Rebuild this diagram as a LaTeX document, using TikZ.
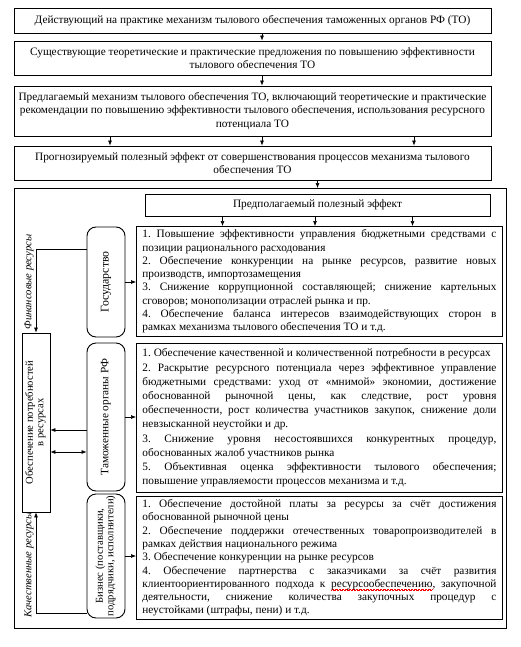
\documentclass[tikz,border=0pt]{standalone}
\usepackage{fontspec}
\setmainfont{Liberation Serif}
\usepackage{tikz}
\usetikzlibrary{positioning, arrows.meta}
\newsavebox\wordbox
\newcommand\redwave[1]{\sbox\wordbox{#1}\rlap{\color{red}\hbox to \wd\wordbox{\xleaders\hbox{\rule[-2.9pt]{0.7pt}{0.5pt}\rule[-2.3pt]{0.7pt}{0.5pt}}\hfill}}\usebox\wordbox}
\newcommand\twolines[1]{\renewcommand\arraystretch{0.88}\begin{tabular}{@{}c@{}}#1\end{tabular}}

\begin{document}
\frenchspacing
\begin{tikzpicture}[x=1pt, y=-1pt, font=\fontsize{11.3}{13.3}\selectfont,
    box/.style={draw, line width=0.9pt, align=center, inner sep=2pt},
    list/.style={draw, line width=0.9pt, text width=354pt, inner xsep=6pt, inner ysep=2pt, align=justify, anchor=north west},
    side/.style={draw, line width=0.9pt, rounded corners=9pt, minimum width=38pt, inner sep=0pt},
    res/.style={rotate=90, font=\fontsize{10.6}{12}\selectfont\itshape},
    arr/.style={-{Latex[length=5pt,width=4pt]}, line width=0.6pt},
    dbl/.style={{Latex[length=5pt,width=4pt]}-{Latex[length=5pt,width=4pt]}, line width=0.6pt}]
    \useasboundingbox (0,0) rectangle (521,647);
    % Upper chain
    \node[box, minimum width=477pt, minimum height=25pt] (act) at (252.5,20.5) {Действующий на практике механизм тылового обеспечения таможенных органов РФ (ТО)};
    \node[box, minimum width=477pt, minimum height=34pt] (prop) at (252.5,58) {Существующие теоретические и практические предложения по повышению эффективности\\тылового обеспечения ТО};
    \node[box, minimum width=477pt, minimum height=50pt] (mech) at (252.5,111) {Предлагаемый механизм тылового обеспечения ТО, включающий теоретические и практические\\рекомендации по повышению эффективности тылового обеспечения, использования ресурсного\\потенциала ТО};
    \node[box, minimum width=477pt, minimum height=34pt] (fore) at (252.5,163) {Прогнозируемый полезный эффект от совершенствования процессов механизма тылового\\обеспечения ТО};
    \draw[arr] ([xshift=9.5pt]act.south) -- ([xshift=9.5pt]prop.north);
    \draw[arr] ([xshift=9.5pt]prop.south) -- ([xshift=9.5pt]mech.north);
    \foreach \dx in {-142.5,9.5,161.5} {\draw[arr] ([xshift=\dx pt]mech.south) -- ([xshift=\dx pt]fore.north);}
    % Frame and effect
    \node[draw, line width=0.9pt, minimum width=492pt, minimum height=440pt, anchor=north west] (frame) at (14,188) {};
    \node[box, minimum width=345pt, minimum height=22pt] (eff) at (317.5,205) {Предполагаемый полезный эффект};
    \draw[arr] (fore.south -| eff.north) -- (frame.north -| eff.north);
    % Effect lists
    \node[list, minimum height=110pt] (listA) at (136,226) {1. Повышение эффективности управления бюджетными средствами с\linebreak позиции рационального расходования\par
      2. Обеспечение конкуренции на рынке ресурсов, развитие новых\linebreak производств, импортозамещения\par
      3. Снижение коррупционной составляющей; снижение картельных\linebreak сговоров; монополизации отраслей рынка и пр.\par
      4. Обеспечение баланса интересов взаимодействующих сторон в\linebreak рамках механизма тылового обеспечения ТО и т.д.};
    \node[list, minimum height=149pt, font=\fontsize{11.3}{14.2}\selectfont] (listB) at (136,343) {1.\ Обеспечение качественной и количественной потребности в ресурсах\par
      2. Раскрытие ресурсного потенциала через эффективное управление\linebreak бюджетными средствами: уход от «мнимой» экономии, достижение\linebreak обоснованной рыночной цены, как следствие, рост уровня\linebreak обеспеченности, рост количества участников закупок, снижение доли\linebreak невзысканной неустойки и др.\par
      3. Снижение уровня несостоявшихся конкурентных процедур,\linebreak обоснованных жалоб участников рынка\par
      5. Объективная оценка эффективности тылового обеспечения;\linebreak повышение управляемости процессов механизма и т.д.};
    \node[list, minimum height=123pt] (listC) at (136,496) {1. Обеспечение достойной платы за ресурсы за счёт достижения\linebreak обоснованной рыночной цены\par
      2. Обеспечение поддержки отечественных товаропроизводителей в\linebreak рамках действия национального режима\par
      3.\ Обеспечение конкуренции на рынке ресурсов\par
      4. Обеспечение партнерства с заказчиками за счёт развития\linebreak клиентоориентированного подхода к \redwave{ресурсообеспечению}, закупочной\linebreak деятельности, снижение количества закупочных процедур с\linebreak неустойками (штрафы, пени) и т.д.};
    \foreach \dx in {-95,-2.5,95} {\draw[arr] ([xshift=\dx pt]eff.south) -- ([xshift=\dx pt]eff.south |- listA.north);}
    % Participants
    \node[side, minimum height=110pt, font=\fontsize{11.8}{13}\selectfont] (gos) at (106,282) {\rotatebox{90}{Государство}};
    \node[side, minimum height=148pt] (cust) at (106,417) {\rotatebox{90}{Таможенные органы РФ}};
    \node[side, minimum height=124pt, font=\fontsize{10.6}{12}\selectfont] (biz) at (106,556) {\rotatebox{90}{\twolines{Бизнес (поставщики,\\подрядчики, исполнители)}}};
    \node[draw, line width=0.9pt, minimum width=28pt, minimum height=179pt, inner sep=0pt, font=\fontsize{10.6}{12}\selectfont] (need) at (36,422.5) {\rotatebox{90}{\twolines{Обеспечение потребностей\\в ресурсах}}};
    \draw[arr] (gos.east) -- (gos.east -| listA.west);
    \draw[arr] (cust.east) -- (cust.east -| listB.west);
    \draw[arr] (biz.east) -- (biz.east -| listC.west);
    % Resource flows
    \coordinate (finc) at (36,249);
    \coordinate (kachc) at (36,613);
    \draw[arr] (gos.west |- finc) -| (need.north);
    \draw[arr] (biz.west |- kachc) -| (need.south);
    \draw[arr] ([yshift=-13pt]cust.west) -- ([yshift=-13pt]cust.west -| need.east);
    \draw[dbl] ([yshift=-35pt]cust.west -| need.east) -- ([yshift=-35pt]cust.west);
    \node[res] (finlbl) at (29,282) {Финансовые ресурсы};
    \node[res] (kachlbl) at (29,565) {Качественные ресурсы};
\end{tikzpicture}
\end{document}
